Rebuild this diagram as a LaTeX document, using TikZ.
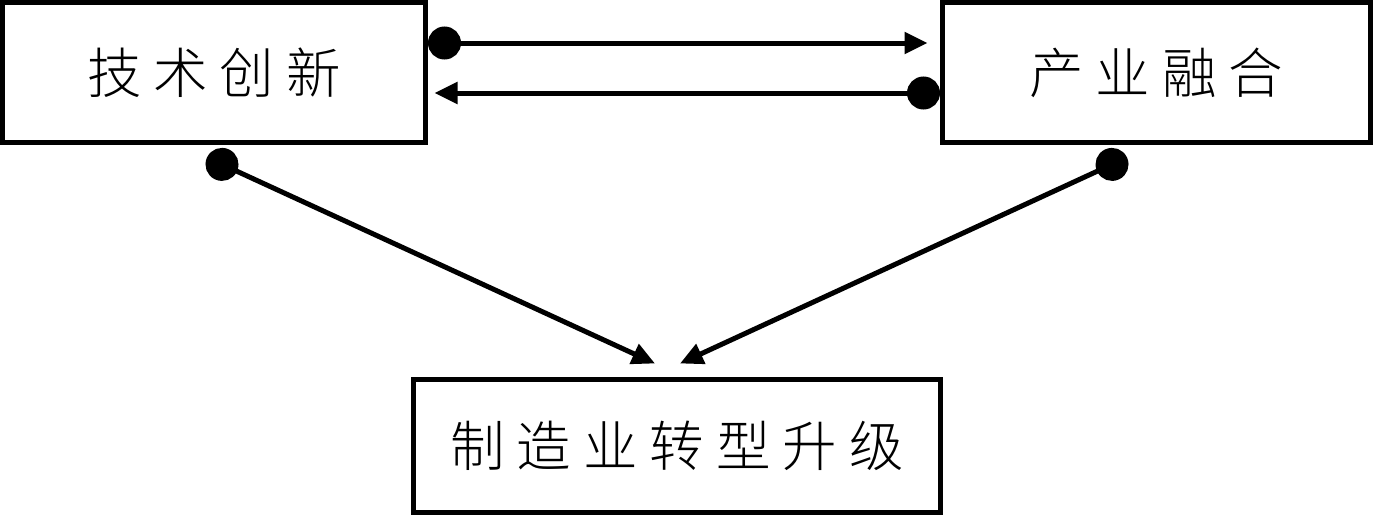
\documentclass[tikz,border=0pt]{standalone}
\usepackage{fontspec}
\newfontfamily\cjk{Noto Sans CJK SC Light}[LetterSpace=22]
\usetikzlibrary{arrows.meta,positioning,calc}

\begin{document}
\begin{tikzpicture}[
  box/.style={draw,line width=0.1cm,inner sep=0pt,font=\cjk\fontsize{31}{31}\selectfont},
  link/.style={line width=0.1cm,{Circle[length=0.66cm]}-{Triangle[length=0.46cm,width=0.42cm]}}]
\useasboundingbox (0,0) rectangle (27.48,-10.36);
\node[box,minimum width=8.46cm,minimum height=2.8cm] (tech) at (4.28,-1.45) {技术创新};
\node[box,minimum width=8.56cm,minimum height=2.8cm] (fusion) at (23.13,-1.45) {产业融合};
\node[box,minimum width=10.54cm,minimum height=2.66cm] (upgrade) at (13.54,-8.91) {制造业转型升级};
% two-way links on top
\draw[link,shorten >=0.25cm] ([yshift=0.59cm]tech.east) -- ([yshift=0.59cm]fusion.west);
\draw[link,shorten >=0.13cm] ([yshift=-0.41cm]fusion.west) -- ([yshift=-0.41cm]tech.east);
% links down to the bottom box
\draw[link] ([xshift=-0.14cm,yshift=-0.25cm]tech.south) -- ([xshift=-0.44cm,yshift=0.26cm]upgrade.north);
\draw[link] ([xshift=-0.59cm,yshift=-0.25cm]fusion.south) -- ([xshift=0.06cm,yshift=0.26cm]upgrade.north);
\end{tikzpicture}
\end{document}
